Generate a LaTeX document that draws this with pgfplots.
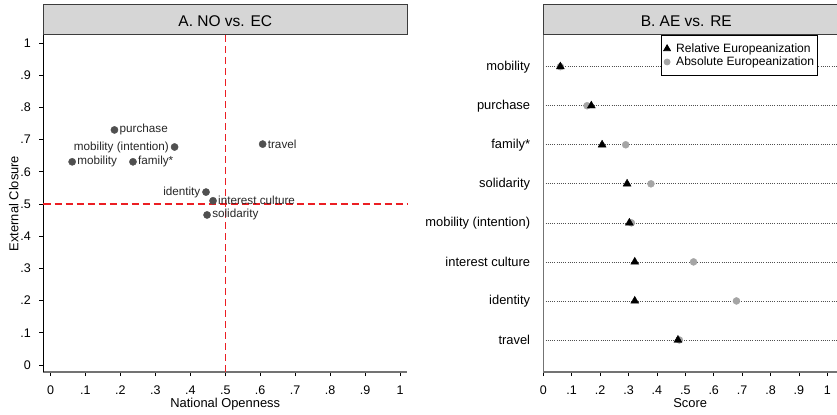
\documentclass[border=0pt]{standalone}
\usepackage{fontspec}
\setmainfont{Liberation Sans}
\usepackage{pgfplots}
\pgfplotsset{compat=1.18}
\definecolor{titlegray}{RGB}{214,214,214}
\definecolor{framegray}{RGB}{60,60,60}
\definecolor{dotgray}{RGB}{80,80,80}
\definecolor{aegray}{RGB}{165,165,165}
\definecolor{axgray}{RGB}{115,115,115}
\definecolor{refred}{RGB}{235,30,35}
\newcommand\fs[1]{\fontsize{#1bp}{#1bp}\selectfont}
\begin{document}
\begin{tikzpicture}
% ---------------- Panel A ----------------
\begin{axis}[
  at={(43.5bp,43bp)}, anchor=south west, scale only axis,
  width=363.5bp, height=337bp,
  xmin=-0.02, xmax=1.02, ymin=-0.0217, ymax=1.0248,
  axis x line*=bottom, axis y line*=left,
  x axis line style={-, axgray, line width=2bp},
  y axis line style={-, black, line width=1bp},
  xtick={0,0.1,0.2,0.3,0.4,0.5,0.6,0.7,0.8,0.9,1},
  xticklabels={0,.1,.2,.3,.4,.5,.6,.7,.8,.9,1},
  ytick={0,0.1,0.2,0.3,0.4,0.5,0.6,0.7,0.8,0.9,1},
  yticklabels={0,.1,.2,.3,.4,.5,.6,.7,.8,.9,1},
  tick align=outside, major tick length=4bp,
  tick style={black, line width=0.8bp},
  xticklabel style={font=\fs{12.5}, anchor=base, inner sep=0pt, yshift=-18bp},
  yticklabel style={font=\fs{12.5}, anchor=east, inner sep=0pt, xshift=-8.5bp},
  xlabel={National Openness}, ylabel={External Closure},
  xlabel style={font=\fs{12.9}, at={(axis description cs:0.5,-0.1068)}, anchor=base},
  ylabel style={font=\fs{12.9}, at={(axis description cs:-0.0688,0.5)}, anchor=base},
  clip=false,
]
\addplot[draw=refred, dash pattern=on 7bp off 4bp, line width=1.4bp] coordinates {(-0.02,0.5) (1.02,0.5)};
\addplot[draw=refred, dash pattern=on 7bp off 4bp, line width=1bp] coordinates {(0.50072,-0.0217) (0.50072,1.0248)};
\addplot[only marks, mark=*, mark size=3.6bp, color=dotgray,
  point meta=explicit symbolic, nodes near coords,
  every node near coord/.append style={anchor=west, inner sep=0pt, xshift=5bp, font=\fs{11.7}, text=black!85}]
  coordinates {
  (0.183,0.730) [purchase]
  (0.062,0.631) [mobility]
  (0.236,0.631) [family*]
  (0.607,0.686) [travel]
  (0.465,0.510) [interest culture]
  (0.448,0.466) [solidarity]
  };
\addplot[only marks, mark=*, mark size=3.6bp, color=dotgray,
  point meta=explicit symbolic, nodes near coords,
  every node near coord/.append style={anchor=east, inner sep=0pt, xshift=-5.5bp, font=\fs{11.7}, text=black!85}]
  coordinates {
  (0.355,0.677) [mobility (intention)]
  (0.445,0.537) [identity]
  };
\end{axis}
% ---------------- Panel B ----------------
\begin{axis}[
  at={(543.3bp,43bp)}, anchor=south west, scale only axis,
  width=293.7bp, height=337bp,
  xmin=0, xmax=1.034, ymin=0.18, ymax=8.812,
  axis x line*=bottom, axis y line*=left,
  x axis line style={-, axgray, line width=2bp},
  y axis line style={-, axgray, line width=1.5bp},
  xtick={0,0.1,0.2,0.3,0.4,0.5,0.6,0.7,0.8,0.9,1},
  xticklabels={0,.1,.2,.3,.4,.5,.6,.7,.8,.9,1},
  ytick={1,2,3,4,5,6,7,8},
  yticklabels={travel,identity,interest culture,mobility (intention),solidarity,family*,purchase,mobility},
  tick align=outside, major tick length=4bp,
  xtick style={black, line width=0.8bp},
  ytick style={draw=none},
  ymajorgrids, grid style={dotgray, line width=0.7bp, dash pattern=on 0.9bp off 1.3bp},
  xticklabel style={font=\fs{12.5}, anchor=base, inner sep=0pt, yshift=-18bp},
  yticklabel style={font=\fs{12.9}, anchor=east, inner sep=0pt, xshift=-9bp},
  xlabel={Score},
  xlabel style={font=\fs{12.9}, at={(axis description cs:0.5,-0.1068)}, anchor=base},
  reverse legend,
  legend style={at={(rel axis cs:0.4018,1)}, anchor=north west, draw=black, line width=0.8bp,
    fill=white, font=\fs{12.1}, inner xsep=2bp, inner ysep=7bp, row sep=0.6bp,
    column sep=4.5bp, nodes={inner sep=1.2bp}, cells={anchor=west}},
  legend image code/.code={\draw[#1, mark options={scale=0.85}] plot coordinates {(0bp,0bp)};},
  clip=false,
]
\addplot[only marks, mark=*, mark size=3.5bp, color=aegray] coordinates {
  (0.060,8) (0.154,7) (0.290,6) (0.379,5) (0.310,4) (0.529,3) (0.680,2) (0.479,1)};
\addlegendentry{Absolute Europeanization\hspace{12bp}}
\addplot[only marks, mark=triangle*, mark size=4.6bp, color=black] coordinates {
  (0.060,8) (0.169,7) (0.207,6) (0.295,5) (0.303,4) (0.322,3) (0.322,2) (0.474,1)};
\addlegendentry{Relative Europeanization}
\end{axis}
% title boxes
\draw[fill=titlegray, draw=framegray, line width=1bp] (43.5bp,380bp) rectangle (407bp,410bp);
\node[font=\fs{15.5}, inner sep=0pt] at (225.25bp,393.8bp) {A. NO vs. EC};
\draw[fill=titlegray, draw=framegray, line width=1bp] (543.3bp,380bp) rectangle (840bp,410bp);
\node[font=\fs{15.5}, inner sep=0pt] at (686.3bp,393.8bp) {B. AE vs. RE};
\pgfresetboundingbox
\path[use as bounding box] (0,0) rectangle (837bp,415bp);
\end{tikzpicture}
\end{document}
